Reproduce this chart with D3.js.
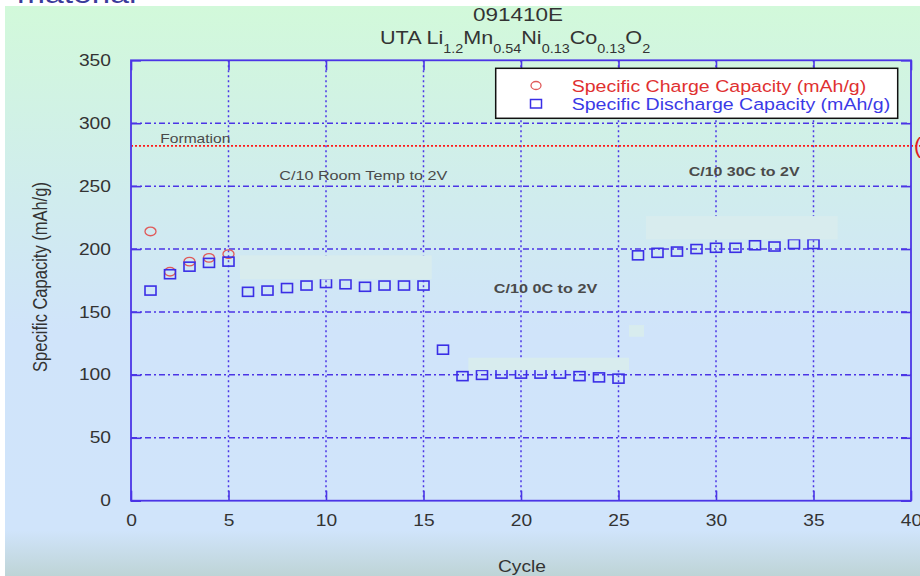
<!DOCTYPE html>
<html><head><meta charset="utf-8">
<script src="https://cdn.jsdelivr.net/npm/d3@7/dist/d3.min.js"></script>
<style>
html,body{margin:0;padding:0;background:#fff;}
svg{display:block;font-family:"Liberation Sans",Arial,sans-serif;}
</style></head>
<body>
<svg id="chart" width="920" height="576"></svg>
<script>
// ---- data ----
const cycles = d3.range(1, 36);
const dischargeCap = [167,180,186,189,190,166,167,169,171,173,172,170,171,171,171,120,
  99,100,101,101,101,101,99,98,97,195,197,198,200,201,201,203,202,204,204];
const chargeCycles = [1,2,3,4,5];
const chargeCap = [214,182,190,193,196];
const xTicks = [0,5,10,15,20,25,30,35,40];
const yTicks = [0,50,100,150,200,250,300,350];
const formationLevel = 282;
// light overlay patches [x0,x1,y0,y1] in data units
const patches = [[5.59,15.42,176,195],[17.3,25.54,103.8,113.6],[26.41,36.24,207.7,226.2],[25.54,26.31,130.3,139.6]];
const annotations = [
  {t:"Formation", x:1.5, y:284, size:13, w:"normal", s:1.2},
  {t:"C/10 Room Temp to 2V", x:7.6, y:255, size:13.5, w:"normal", s:1.2},
  {t:"C/10 30C to 2V", x:28.6, y:258, size:13.3, w:"bold", s:1.2},
  {t:"C/10 0C to 2V", x:18.6, y:165, size:13.5, w:"bold", s:1.2}
];

const svg = d3.select("#chart");
const W = 920, H = 576;
const x = d3.scaleLinear([0,40],[131,911]);
const y = d3.scaleLinear([0,350],[500.7,60.3]);
const SX = 1.2;
const gridC = "#4b35e6";

// background gradient panel
const defs = svg.append("defs");
const lg = defs.append("linearGradient").attr("id","bg").attr("x1",0).attr("y1",0).attr("x2",0).attr("y2",1);
[[0,"#d2f9da"],[0.34,"#d0ecee"],[0.57,"#d0e4fa"],[0.92,"#d0e4fb"],[1,"#bed4d6"]].forEach(s=>
  lg.append("stop").attr("offset",s[0]).attr("stop-color",s[1]));
svg.append("rect").attr("x",5).attr("y",6).attr("width",W-5).attr("height",H-6).attr("fill","url(#bg)");

// cut-off heading text at top
svg.append("text").attr("transform","translate(17,3.3) scale(1.2,1)")
  .attr("font-size",28).attr("fill","#3b3b9b").text("material");

// grid
const g = svg.append("g");
g.selectAll("line.vg").data(xTicks.filter(d=>d>0&&d<40)).join("line")
  .attr("x1",d=>x(d)).attr("x2",d=>x(d)).attr("y1",y(350)).attr("y2",y(0))
  .attr("stroke",gridC).attr("stroke-width",1.5).attr("stroke-dasharray","2,3");
g.selectAll("line.hg").data(yTicks.filter(d=>d>0&&d<350)).join("line")
  .attr("x1",x(0)).attr("x2",x(40)).attr("y1",d=>y(d)).attr("y2",d=>y(d))
  .attr("stroke",gridC).attr("stroke-width",1.5).attr("stroke-dasharray","6,3,2,3");

// formation line
svg.append("line").attr("x1",x(0)).attr("x2",W).attr("y1",y(formationLevel)).attr("y2",y(formationLevel))
  .attr("stroke","#ff1a1a").attr("stroke-width",1.6).attr("stroke-dasharray","2,2");
svg.append("text").attr("x",914).attr("y",y(formationLevel)+7).attr("font-size",22).attr("fill","#e02020").text("(");

// markers
svg.append("g").selectAll("ellipse").data(chargeCycles).join("ellipse")
  .attr("cx",(d)=>x(d)).attr("cy",(d,i)=>y(chargeCap[i])).attr("rx",5.5).attr("ry",4.3)
  .attr("fill","none").attr("stroke","#e05a5a").attr("stroke-width",1.3);
svg.append("g").selectAll("rect").data(cycles).join("rect")
  .attr("x",d=>x(d)-5.5).attr("y",(d,i)=>y(dischargeCap[i])-4.5).attr("width",11).attr("height",9)
  .attr("fill","none").attr("stroke","#3a2ee6").attr("stroke-width",1.6);

// overlay patches
svg.append("g").selectAll("rect").data(patches).join("rect")
  .attr("x",d=>x(d[0])).attr("width",d=>x(d[1])-x(d[0]))
  .attr("y",d=>y(d[3])).attr("height",d=>y(d[2])-y(d[3]))
  .attr("fill","#d8ecee");

// axes (inward ticks)
const fmt = d3.format("d");
const xb = svg.append("g").attr("transform",`translate(0,${y(0)})`)
  .call(d3.axisBottom(x).tickValues(xTicks).tickFormat(fmt).tickSizeInner(-10).tickSizeOuter(0).tickPadding(14));
const yl = svg.append("g").attr("transform",`translate(${x(0)},0)`)
  .call(d3.axisLeft(y).tickValues(yTicks).tickFormat(fmt).tickSizeInner(-10).tickSizeOuter(0).tickPadding(16.7));
const xt = svg.append("g").attr("transform",`translate(0,${y(350)})`)
  .call(d3.axisTop(x).tickValues(xTicks).tickFormat("").tickSizeInner(-10).tickSizeOuter(0));
const yr = svg.append("g").attr("transform",`translate(${x(40)},0)`)
  .call(d3.axisRight(y).tickValues(yTicks).tickFormat("").tickSizeInner(-10).tickSizeOuter(0));
[xb,yl,xt,yr].forEach(a=>{
  a.select(".domain").remove();
  a.selectAll(".tick line").attr("stroke",gridC).attr("stroke-width",1.6);
  a.selectAll(".tick text").attr("font-size",16).attr("fill","#333")
    .attr("font-family","'Liberation Sans',Arial,sans-serif")
    .attr("transform",`scale(${SX},1)`);
});
// frame
svg.append("rect").attr("x",x(0)).attr("y",y(350)).attr("width",x(40)-x(0)).attr("height",y(0)-y(350))
  .attr("fill","none").attr("stroke",gridC).attr("stroke-width",1.8);

// annotations
annotations.forEach(a=>{
  svg.append("text").attr("transform",`translate(${x(a.x)},${y(a.y)}) scale(${a.s},1)`)
    .attr("font-size",a.size).attr("font-weight",a.w).attr("fill","#4a4a4a").text(a.t);
});

// titles
svg.append("text").attr("transform",`translate(518,21) scale(1.25,1)`).attr("text-anchor","middle")
  .attr("font-size",18).attr("fill","#333").text("091410E");
const t2 = svg.append("text").attr("transform",`translate(380,43.5) scale(${SX},1)`)
  .attr("font-size",18).attr("fill","#333");
const parts = [["UTA Li","1.2"],["Mn","0.54"],["Ni","0.13"],["Co","0.13"],["O","2"]];
parts.forEach((p,i)=>{
  t2.append("tspan").attr("dy",i===0?0:-9.5).text(p[0]);
  t2.append("tspan").attr("font-size",12).attr("dy",9.5).text(p[1]);
});

// axis titles
svg.append("text").attr("transform",`translate(522,571.5) scale(${SX},1)`).attr("text-anchor","middle")
  .attr("font-size",16).attr("fill","#333").text("Cycle");
svg.append("text").attr("transform",`translate(46.5,277) scale(${SX},1) rotate(-90)`).attr("text-anchor","middle")
  .attr("font-size",16.5).attr("fill","#333").text("Specific Capacity (mAh/g)");

// legend
const leg = svg.append("g");
leg.append("rect").attr("x",495.7).attr("y",68.3).attr("width",402).attr("height",50)
  .attr("fill","#fff").attr("stroke","#111").attr("stroke-width",1.5);
leg.append("ellipse").attr("cx",536).attr("cy",85.5).attr("rx",5).attr("ry",4)
  .attr("fill","none").attr("stroke","#e05a5a").attr("stroke-width",1.3);
leg.append("rect").attr("x",530.5).attr("y",99.5).attr("width",11).attr("height",8.5)
  .attr("fill","none").attr("stroke","#3a2ee6").attr("stroke-width",1.5);
leg.append("text").attr("transform",`translate(571.7,91.7) scale(${SX},1)`).attr("font-size",16.3)
  .attr("fill","#e03030").text("Specific Charge Capacity (mAh/g)");
leg.append("text").attr("transform",`translate(571.7,110) scale(${SX},1)`).attr("font-size",16.3)
  .attr("fill","#3a3ae6").text("Specific Discharge Capacity (mAh/g)");
</script>
</body></html>
